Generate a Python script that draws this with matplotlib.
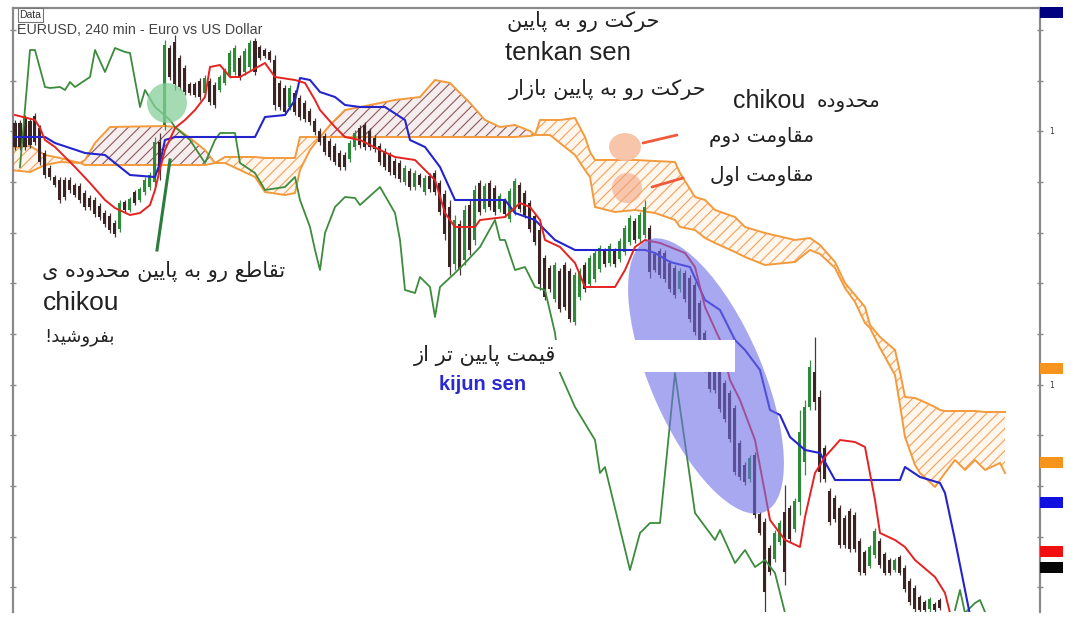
import numpy as np
import matplotlib
matplotlib.use("Agg")
import matplotlib.pyplot as plt
from matplotlib.patches import Ellipse, Rectangle
from matplotlib.transforms import ScaledTranslation, blended_transform_factory

# ---------------- data (price in pips above chart base, x in bar index) -------------
c_start = 3
c_high = [492, 492, 497, 494, 499, 487, 462, 447, 437, 435,
          435, 435, 429, 429, 422, 417, 415, 409, 402, 399,
          392, 412, 412, 415, 422, 425, 435, 440, 475, 479,
          572, 567, 577, 557, 547, 530, 530, 534, 537, 534,
          530, 537, 544, 562, 567, 557, 564, 572, 574, 567,
          564, 562, 557, 532, 527, 527, 522, 517, 512, 504,
          494, 484, 479, 474, 469, 462, 460, 472, 482, 487,
          490, 484, 477, 469, 464, 460, 454, 452, 447, 444,
          442, 439, 437, 439, 442, 432, 422, 412, 397, 392,
          407, 412, 427, 432, 429, 432, 427, 419, 414, 424,
          434, 430, 422, 412, 399, 387, 357, 347, 350, 344,
          350, 344, 340, 344, 350, 357, 362, 367, 364, 369,
          364, 374, 387, 397, 394, 400, 412, 387, 360, 364,
          362, 352, 347, 344, 342, 337, 330, 312, 282, 272,
          252, 244, 232, 222, 207, 172, 150, 157, 160, 100,
          94, 67, 82, 92, 127, 107, 114, 202, 212, 252,
          275, 222, 167, 124, 117, 107, 97, 104, 100, 74,
          62, 67, 84, 74, 60, 54, 54, 57, 47, 34,
          27, 17, 12, 15, 10, 14]
c_low = [462, 462, 462, 464, 467, 447, 434, 432, 425, 409,
         412, 419, 415, 409, 402, 402, 395, 392, 385, 379,
         375, 380, 400, 400, 407, 410, 417, 422, 425, 432,
         482, 532, 522, 522, 517, 517, 515, 512, 517, 507,
         504, 520, 527, 534, 537, 532, 537, 542, 537, 552,
         554, 550, 502, 502, 497, 502, 497, 492, 490, 487,
         477, 467, 457, 452, 447, 442, 442, 450, 462, 464,
         462, 462, 460, 447, 442, 437, 434, 430, 427, 422,
         422, 425, 417, 420, 417, 397, 372, 337, 342, 337,
         347, 357, 367, 397, 400, 402, 397, 400, 395, 390,
         397, 400, 394, 380, 367, 322, 312, 320, 310, 300,
         302, 290, 287, 312, 320, 325, 330, 340, 345, 346,
         345, 350, 357, 367, 369, 370, 374, 334, 340, 334,
         330, 320, 314, 320, 310, 290, 277, 264, 240, 220,
         219, 200, 190, 170, 137, 132, 127, 130, 94, 77,
         0, 37, 50, 67, 27, 70, 80, 97, 137, 202,
         202, 130, 130, 87, 90, 64, 64, 60, 60, 37,
         37, 44, 54, 44, 37, 37, 40, 37, 20, 7,
         0, 0, 0, 0, 0, 2]
c_open = [489, 489, 494, 491, 496, 484, 459, 444, 435, 432,
          432, 432, 427, 426, 419, 414, 412, 406, 399, 396,
          389, 383, 410, 402, 420, 412, 420, 425, 430, 470,
          487, 564, 570, 554, 544, 528, 528, 531, 519, 531,
          527, 522, 529, 537, 540, 554, 540, 545, 571, 565,
          562, 560, 552, 529, 524, 505, 519, 514, 509, 501,
          491, 481, 476, 471, 466, 459, 457, 453, 465, 484,
          487, 481, 474, 466, 461, 457, 451, 449, 430, 441,
          425, 437, 420, 436, 439, 429, 418, 405, 348, 388,
          352, 407, 372, 429, 403, 429, 424, 403, 411, 393,
          400, 427, 419, 409, 396, 382, 354, 344, 313, 341,
          347, 341, 290, 315, 347, 328, 333, 343, 361, 349,
          361, 353, 360, 370, 391, 373, 377, 384, 358, 361,
          359, 349, 344, 323, 339, 334, 327, 309, 279, 269,
          249, 241, 229, 219, 204, 169, 147, 133, 157, 98,
          90, 64, 53, 70, 100, 104, 83, 110, 150, 205,
          240, 215, 164, 121, 114, 104, 94, 101, 97, 71,
          60, 46, 57, 71, 58, 52, 42, 55, 44, 31,
          24, 15, 10, 3, 8, 12]
c_close = [465, 465, 465, 467, 470, 450, 437, 435, 427, 412,
           415, 422, 417, 412, 405, 405, 398, 395, 388, 382,
           378, 409, 402, 413, 409, 423, 432, 437, 470, 440,
           567, 535, 528, 525, 520, 519, 517, 515, 534, 510,
           507, 535, 542, 559, 564, 535, 561, 569, 540, 554,
           556, 552, 507, 505, 500, 524, 500, 495, 493, 490,
           480, 470, 460, 455, 450, 445, 445, 469, 479, 467,
           465, 465, 463, 450, 445, 440, 437, 433, 444, 425,
           439, 427, 434, 423, 420, 400, 378, 345, 392, 343,
           402, 362, 422, 400, 426, 405, 400, 416, 398, 421,
           431, 403, 397, 383, 370, 328, 315, 323, 347, 303,
           305, 293, 337, 341, 323, 354, 359, 364, 348, 366,
           348, 371, 384, 394, 372, 397, 405, 340, 342, 337,
           333, 323, 317, 341, 313, 293, 280, 267, 243, 223,
           222, 203, 193, 173, 140, 135, 130, 154, 97, 79,
           20, 40, 79, 89, 40, 73, 111, 180, 205, 245,
           210, 140, 133, 90, 93, 67, 67, 63, 63, 40,
           39, 65, 81, 47, 39, 39, 52, 39, 23, 10,
           3, 2, 2, 13, 2, 4]

cloud_x = [2, 6, 9, 12, 16, 17, 19, 22, 33, 35, 38, 41, 43, 45, 51, 53, 57, 59, 60, 62,
           64, 66, 69, 72, 79, 84, 87, 90, 94, 97, 100, 103, 106, 107, 108, 110, 112, 115, 117, 118,
           119, 123, 127, 131, 135, 136, 139, 141, 143, 147, 149, 153, 159, 162, 164, 167, 169, 171, 173, 174,
           176, 179, 180, 181, 183, 184, 187, 188, 189, 191, 193, 195, 197, 200, 201]
span_a = [442, 440, 447, 450, 449, 452, 469, 485, 486, 485, 474, 462, 449, 449, 435, 420, 417, 419, 442, 462,
          475, 487, 502, 505, 512, 515, 532, 529, 509, 492, 485, 487, 481, 477, 477, 477, 469, 457, 442, 435,
          405, 400, 402, 399, 392, 385, 382, 374, 369, 360, 355, 347, 350, 362, 358, 344, 324, 310, 289, 284,
          264, 237, 207, 175, 147, 139, 125, 132, 139, 152, 142, 152, 142, 149, 139]
span_b = [464, 466, 457, 454, 449, 447, 447, 447, 447, 447, 447, 447, 449, 455, 455, 454, 454, 454, 475, 475,
          475, 475, 475, 475, 475, 475, 475, 475, 475, 475, 475, 475, 476, 477, 492, 492, 492, 494, 475, 460,
          452, 452, 452, 451, 450, 439, 415, 412, 402, 395, 385, 379, 372, 374, 367, 350, 329, 317, 305, 287,
          275, 262, 240, 215, 214, 212, 205, 202, 201, 201, 201, 201, 200, 200, 200]

tenkan_x = [3, 7, 8, 9, 11, 13, 15, 18, 21, 23, 26, 28, 30, 31, 32, 33, 35, 37, 39, 41,
            42, 44, 46, 48, 53, 55, 59, 61, 63, 64, 67, 69, 72, 76, 79, 83, 85, 87, 89, 91,
            95, 96, 101, 104, 106, 108, 109, 112, 115, 117, 123, 125, 127, 129, 132, 137, 139, 141, 144, 146,
            148, 151, 153, 154, 157, 160, 161, 163, 165, 168, 171, 173, 175, 176, 179, 181, 183, 187, 189, 190]
tenkan_v = [497, 492, 484, 472, 465, 455, 445, 429, 412, 404, 397, 399, 407, 422, 443, 462, 484, 492, 502, 515,
            545, 547, 535, 535, 549, 535, 532, 529, 512, 502, 485, 475, 472, 462, 455, 452, 442, 432, 399, 385,
            385, 392, 395, 409, 405, 392, 372, 365, 349, 325, 325, 342, 365, 372, 369, 359, 345, 305, 272, 232,
            212, 172, 119, 92, 72, 65, 95, 139, 155, 172, 170, 165, 112, 79, 72, 65, 52, 35, 19, -1]

kijun_x = [3, 9, 11, 17, 21, 23, 26, 31, 32, 33, 35, 51, 52, 53, 57, 59, 60, 62, 64, 67,
           69, 72, 77, 81, 82, 85, 88, 91, 101, 103, 107, 111, 115, 129, 131, 134, 138, 141, 144, 147,
           149, 152, 154, 156, 158, 161, 164, 167, 180, 181, 184, 188, 189, 191, 193, 194]
kijun_v = [475, 475, 469, 459, 457, 449, 437, 435, 449, 472, 475, 475, 485, 495, 497, 512, 534, 532, 520, 515,
           507, 505, 505, 492, 472, 465, 445, 412, 412, 399, 392, 372, 362, 362, 359, 350, 345, 312, 302, 272,
           262, 242, 202, 197, 175, 162, 159, 132, 132, 145, 135, 129, 119, 72, 22, -3]

chikou_x = [4, 6, 7, 9, 10, 12, 13, 14, 15, 18, 19, 21, 23, 25, 26, 28, 29, 31, 34, 35,
            38, 41, 43, 44, 47, 48, 51, 53, 57, 59, 60, 62, 63, 64, 65, 67, 69, 71, 72, 76,
            79, 80, 81, 83, 84, 86, 87, 88, 91, 93, 96, 99, 100, 101, 103, 105, 107, 109, 111, 112,
            115, 119, 120, 121, 126, 128, 130, 132, 135, 139, 143, 144, 147, 149, 151, 153, 155, 157]
chikou_v = [445, 562, 562, 525, 524, 525, 522, 530, 525, 535, 562, 540, 564, 560, 559, 505, 522, 505, 492, 485,
            472, 449, 472, 479, 479, 449, 439, 422, 425, 435, 412, 385, 362, 342, 379, 405, 415, 414, 407, 425,
            399, 372, 322, 319, 335, 325, 295, 325, 339, 349, 365, 392, 372, 372, 342, 345, 325, 322, 279, 239,
            205, 172, 139, 145, 42, 79, 89, 89, 239, 99, 72, 82, 49, 62, 45, 52, 39, -1]
chikou_tail_x = [191, 192, 193, 195, 196, 197]
chikou_tail_v = [2, 22, -1, 9, 12, 0]

tick_vals = [582, 531, 481, 430, 379, 329, 278, 227, 177, 126, 75, 25]
marker_vals = [600, 244, 150, 110, 61, 45]
marker_colors = ["#000080", "#f7941d", "#f7941d", "#1010e0", "#f01010", "#050505"]

# ---------------- Persian shaping (presentation forms, visual order) ----------------
DUAL = {
    "ب": (0xFE8F, 0xFE90, 0xFE91, 0xFE92), "پ": (0xFB56, 0xFB57, 0xFB58, 0xFB59),
    "ت": (0xFE95, 0xFE96, 0xFE97, 0xFE98), "ح": (0xFEA1, 0xFEA2, 0xFEA3, 0xFEA4),
    "ش": (0xFEB5, 0xFEB6, 0xFEB7, 0xFEB8), "ط": (0xFEC1, 0xFEC2, 0xFEC3, 0xFEC4),
    "ع": (0xFEC9, 0xFECA, 0xFECB, 0xFECC), "ف": (0xFED1, 0xFED2, 0xFED3, 0xFED4),
    "ق": (0xFED5, 0xFED6, 0xFED7, 0xFED8), "ک": (0xFB8E, 0xFB8F, 0xFB90, 0xFB91),
    "ل": (0xFEDD, 0xFEDE, 0xFEDF, 0xFEE0), "م": (0xFEE1, 0xFEE2, 0xFEE3, 0xFEE4),
    "ن": (0xFEE5, 0xFEE6, 0xFEE7, 0xFEE8), "ه": (0xFEE9, 0xFEEA, 0xFEEB, 0xFEEC),
    "ی": (0xFBFC, 0xFBFD, 0xFBFE, 0xFBFF),
}
RIGHT = {"ا": (0xFE8D, 0xFE8E), "د": (0xFEA9, 0xFEAA), "ر": (0xFEAD, 0xFEAE),
         "ز": (0xFEAF, 0xFEB0), "و": (0xFEED, 0xFEEE)}


def fa(s):
    out = []
    for k, ch in enumerate(s):
        prev = s[k - 1] if k > 0 else ""
        nxt = s[k + 1] if k + 1 < len(s) else ""
        if ch in DUAL:
            forms = DUAL[ch]
        elif ch in RIGHT:
            forms = RIGHT[ch]
        else:
            out.append(ch)
            continue
        jp = prev in DUAL
        jn = ch in DUAL and (nxt in DUAL or nxt in RIGHT)
        if jp and jn:
            f = forms[3]
        elif jp:
            f = forms[1]
        elif jn:
            f = forms[2]
        else:
            f = forms[0]
        out.append(chr(f))
    return "".join(reversed(out))


# ---------------- figure ----------------
plt.rcParams["hatch.linewidth"] = 0.8
fig = plt.figure(figsize=(10.74, 6.19), dpi=100)
ax = fig.add_axes([13 / 1074, 7 / 619, 1027 / 1074, 604 / 619])
ax.set_xlim(2.6, 208)
ax.set_ylim(0, 604)

ORANGE = "#f39a3c"
BROWN_H = "#8a5a5a"
ORANGE_H = "#f5a25a"

cx = np.array(cloud_x, float)
a = np.array(span_a, float)
b = np.array(span_b, float)
ax.fill_between(cx, a, b, where=a >= b, interpolate=True, facecolor="#f6eeee",
                edgecolor=BROWN_H, hatch="///", linewidth=0, zorder=1)
ax.fill_between(cx, a, b, where=b >= a, interpolate=True, facecolor="#fff6ee",
                edgecolor=ORANGE_H, hatch="///", linewidth=0, zorder=1)
ax.plot(cx, a, color=ORANGE, lw=1.4, zorder=2)
ax.plot(cx, b, color=ORANGE, lw=1.4, zorder=2)

# candles
o = np.array(c_open, float)
h = np.array(c_high, float)
l = np.array(c_low, float)
c = np.array(c_close, float)
idx = np.arange(c_start, c_start + len(o))
bull = c >= o
wick_cols = np.where(bull, "#3d8a45", "#4a3838")
body_cols = np.where(bull, "#2e8a3a", "#3a2424")
ax.vlines(idx, l, h, colors=wick_cols, lw=0.9, zorder=3)
ax.bar(idx, np.abs(c - o), bottom=np.minimum(o, c), width=0.6, color=body_cols,
       linewidth=0, zorder=4)

# ichimoku lines
ax.plot(chikou_x, chikou_v, color="#3c8c3c", lw=1.3, zorder=5)
ax.plot(chikou_tail_x, chikou_tail_v, color="#3c8c3c", lw=1.3, zorder=5)
ax.plot(kijun_x, kijun_v, color="#2424cc", lw=1.5, zorder=5)
ax.plot(tenkan_x, tenkan_v, color="#e52222", lw=1.4, zorder=5)

# annotation shapes
def at(xd, yd):
    return fig.dpi_scale_trans + ScaledTranslation(xd, yd, ax.transData)

ax.add_patch(Ellipse((0, 0), 0.40, 0.40, transform=at(33.4, 509), facecolor="#86cf98",
                     alpha=0.75, edgecolor="none", zorder=6))
ax.add_patch(Ellipse((0, 0), 2.96, 1.12, angle=-66.7, transform=at(141.2, 236),
                     facecolor="#6f6fe6", alpha=0.6, edgecolor="none", zorder=6))
ax.add_patch(Ellipse((0, 0), 0.32, 0.28, transform=at(125, 465), facecolor="#f7c2a6",
                     alpha=0.95, edgecolor="none", zorder=6))
ax.add_patch(Ellipse((0, 0), 0.30, 0.30, transform=at(125.4, 424), facecolor="#f2a078",
                     alpha=0.55, edgecolor="none", zorder=6))
ax.plot([128.6, 135.4], [469, 477], color="#ef5b3b", lw=2, zorder=7, solid_capstyle="round")
ax.plot([130.4, 136.6], [425, 434], color="#ef5b3b", lw=2, zorder=7, solid_capstyle="round")
ax.plot([31.4, 34.0], [362, 452], color="#2b7d3c", lw=2.2, zorder=7)
ax.add_patch(Rectangle((111, 240), 36, 32, facecolor="white", edgecolor="none", zorder=7))

# texts
FA = dict(family="DejaVu Sans", color="#222222", zorder=9, va="center", ha="center")
LA = dict(family="Liberation Sans", color="#222222", zorder=9, va="center", ha="center")
ax.text(116.6, 590, fa("حرکت رو به پایین"), fontsize=15, **FA)
ax.text(113.6, 559, "tenkan sen", fontsize=18.5, **LA)
ax.text(121.6, 522, fa("حرکت رو به پایین بازار"), fontsize=15, **FA)
ax.text(153.8, 511, "chikou", fontsize=18, **LA)
ax.text(169.8, 509, fa("محدوده"), fontsize=14.5, **FA)
ax.text(152.4, 475, fa("مقاومت دوم"), fontsize=14.5, **FA)
ax.text(152.4, 436, fa("مقاومت اول"), fontsize=14.5, **FA)
ax.text(32.8, 341, fa("تقاطع رو به پایین محدوده ی"), fontsize=15, **FA)
ax.text(16.2, 309, "chikou", fontsize=19, **LA)
ax.text(15.8, 275, fa("بفروشید!"), fontsize=13, **FA)
ax.text(97, 257, fa("قیمت پایین تر از"), fontsize=15, **FA)
ax.text(96.6, 227, "kijun sen", fontsize=14.5, fontweight="bold", family="Liberation Sans",
        color="#2a2ad0", zorder=9, va="center", ha="center")
ax.text(3.4, 582, "EURUSD, 240 min - Euro vs US Dollar", fontsize=10.3, family="Liberation Sans",
        color="#444444", va="center", ha="left", zorder=9)
ax.text(6.1, 597, "Data", fontsize=7.5, family="Liberation Sans", color="#333333",
        va="center", ha="center", zorder=9,
        bbox=dict(boxstyle="square,pad=0.15", fc="white", ec="#777777", lw=0.8))

# axes styling
for side in ("left", "right", "top"):
    ax.spines[side].set_color("#8a8a8a")
    ax.spines[side].set_linewidth(1.6)
ax.spines["bottom"].set_visible(False)
ax.set_xticks([])
ax.set_yticks(tick_vals)
ax.tick_params(axis="y", left=True, right=True, direction="inout", length=5, width=1,
               color="#8a8a8a", labelleft=False, labelright=False)

# right price markers
bt = blended_transform_factory(ax.transAxes, ax.transData)
for v, col in zip(marker_vals, marker_colors):
    ax.add_patch(Rectangle((1.0, v - 5.5), 0.0224, 11, transform=bt, facecolor=col,
                           edgecolor="none", clip_on=False, zorder=10))
for v in (481, 227):
    ax.text(1.009, v, "1", transform=bt, fontsize=5.5, color="#333333", va="center",
            ha="left", family="DejaVu Sans")

fig.savefig("out.png", dpi=100)
